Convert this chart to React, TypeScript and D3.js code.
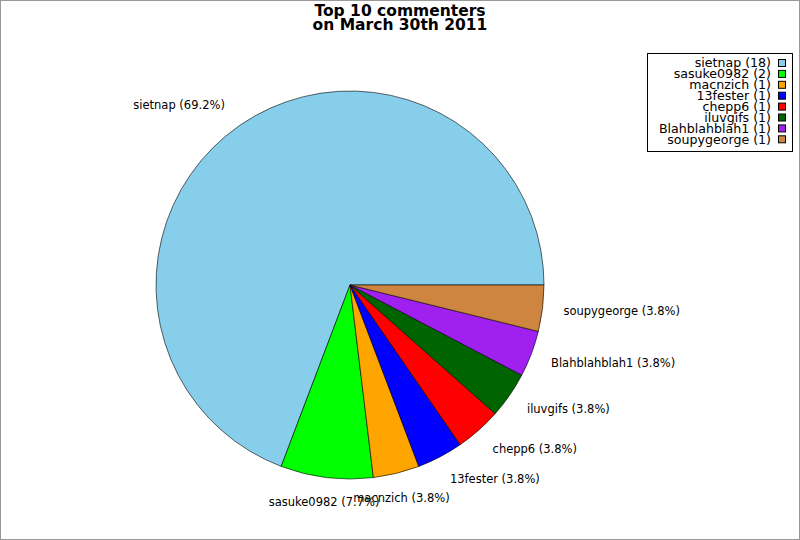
import React, { useRef, useEffect } from "react";
import * as d3 from "d3";

const names = ["sietnap", "sasuke0982", "macnzich", "13fester", "chepp6", "iluvgifs", "Blahblahblah1", "soupygeorge"];
const counts = [18, 2, 1, 1, 1, 1, 1, 1];
const colors = ["#87ceeb", "#00ff00", "#ffa500", "#0000ff", "#ff0000", "#006400", "#a020f0", "#cd853f"];
const titleLines = ["Top 10 commenters", "on March 30th 2011"];

export default function App() {
  const svgRef = useRef<SVGSVGElement>(null);

  useEffect(() => {
    if (!svgRef.current) return;
    const svg = d3.select(svgRef.current);
    svg.selectAll("*").remove();

    const width = 800;
    const height = 540;
    const cx = 350;
    const cy = 285;
    const radius = 194;
    const labelRx = 215;
    const labelRy = 219;
    const font = "'DejaVu Sans', sans-serif";

    svg.attr("width", width).attr("height", height);

    svg.append("rect")
      .attr("x", 0.5).attr("y", 0.5)
      .attr("width", width - 1).attr("height", height - 1)
      .attr("fill", "#fff")
      .attr("stroke", "#999");

    // Title
    titleLines.forEach((t, i) => {
      svg.append("text")
        .attr("x", 400)
        .attr("y", 16 + i * 13.5)
        .attr("text-anchor", "middle")
        .style("font-family", font)
        .style("font-weight", "bold")
        .style("font-size", "15.5px")
        .text(t);
    });

    const data = names.map((n, i) => ({ name: n, value: counts[i], color: colors[i] }));
    const total = d3.sum(counts);

    // start at 3 o'clock, go counter-clockwise
    const pie = d3.pie<typeof data[0]>()
      .sort(null)
      .value(d => d.value)
      .startAngle(Math.PI / 2)
      .endAngle(Math.PI / 2 - 2 * Math.PI);

    const arc = d3.arc<d3.PieArcDatum<typeof data[0]>>()
      .innerRadius(0)
      .outerRadius(radius);

    const g = svg.append("g").attr("transform", `translate(${cx},${cy})`);
    const arcs = pie(data);

    g.selectAll("path")
      .data(arcs)
      .enter()
      .append("path")
      .attr("d", arc)
      .attr("fill", d => d.data.color)
      .attr("stroke", "#000")
      .attr("stroke-width", 0.6);

    // Slice labels
    arcs.forEach(a => {
      const mid = (a.startAngle + a.endAngle) / 2;
      const x = Math.sin(mid) * labelRx;
      const y = -Math.cos(mid) * labelRy;
      const c = Math.sin(mid);
      const anchor = Math.abs(c) < 0.3 ? "middle" : c > 0 ? "start" : "end";
      const pct = ((a.data.value / total) * 100).toFixed(1);
      g.append("text")
        .attr("x", anchor === "end" ? x - 3 : x)
        .attr("y", y)
        .attr("dy", "0.35em")
        .attr("text-anchor", anchor)
        .style("font-family", font)
        .style("font-size", "11.5px")
        .style("fill", "#000")
        .text(`${a.data.name} (${pct}%)`);
    });

    // Legend
    const legend = svg.append("g");
    legend.append("rect")
      .attr("x", 647.5).attr("y", 53.5)
      .attr("width", 145).attr("height", 98)
      .attr("fill", "#fff")
      .attr("stroke", "#000");

    data.forEach((d, i) => {
      const yc = 63 + i * 10.9;
      legend.append("text")
        .attr("x", 771)
        .attr("y", yc)
        .attr("dy", "0.35em")
        .attr("text-anchor", "end")
        .style("font-family", font)
        .style("font-size", "12.6px")
        .text(`${d.name} (${d.value})`);
      legend.append("rect")
        .attr("x", 778.5)
        .attr("y", yc - 3.5)
        .attr("width", 7)
        .attr("height", 7)
        .attr("fill", d.color)
        .attr("stroke", "#000");
    });
  }, []);

  return (
    <div style={{ position: "fixed", left: 0, top: 0, background: "#fff" }}>
      <svg ref={svgRef} style={{ display: "block" }} />
    </div>
  );
}
